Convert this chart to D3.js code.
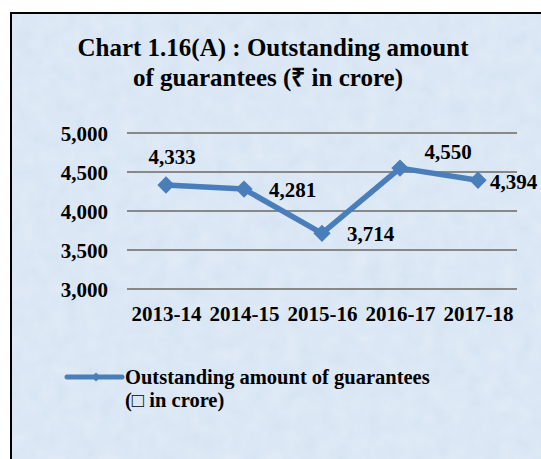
<!DOCTYPE html>
<html>
<head>
<meta charset="utf-8">
<script src="https://cdn.jsdelivr.net/npm/d3@7/dist/d3.min.js"></script>
<style>
  html, body { margin: 0; padding: 0; background: #ffffff; }
  svg { display: block; }
  text { font-family: "Liberation Serif", "Times New Roman", serif; font-weight: bold; fill: #000; }
</style>
</head>
<body>
<svg id="chart" width="541" height="459"></svg>
<script>
const categories = ["2013-14", "2014-15", "2015-16", "2016-17", "2017-18"];
const values = [4333, 4281, 3714, 4550, 4394];
const valueLabels = ["4,333", "4,281", "3,714", "4,550", "4,394"];
const yTicks = [3000, 3500, 4000, 4500, 5000];
const titleLines = ["Chart 1.16(A) : Outstanding amount", "of guarantees (\u20B9 in crore)"];
const legendLines = ["Outstanding amount of guarantees", "(\u25A1 in crore)"];

// layout of the data labels relative to their points (dx, dy, anchor)
const labelLayout = [
  { dx: 6, dy: -21, anchor: "middle" },
  { dx: 25, dy: 8, anchor: "start" },
  { dx: 25, dy: 8, anchor: "start" },
  { dx: 48, dy: -9, anchor: "middle" },
  { dx: 12, dy: 9, anchor: "start" }
];

const svg = d3.select("#chart");
const defs = svg.append("defs");
const filt = defs.append("filter").attr("id", "tex").attr("x", 0).attr("y", 0).attr("width", 1).attr("height", 1);
filt.append("feTurbulence").attr("type", "fractalNoise").attr("baseFrequency", 0.06).attr("numOctaves", 3).attr("seed", 4);
filt.append("feColorMatrix").attr("type", "matrix")
  .attr("values", "0 0 0 0 1  0 0 0 0 1  0 0 0 0 1  0 0 0 0.35 -0.05");
filt.append("feComposite").attr("in2", "SourceGraphic").attr("operator", "in");

// frame
svg.append("rect").attr("x", 11).attr("y", 13).attr("width", 540).attr("height", 460)
  .attr("fill", "#d6e4f3").attr("stroke", "#000").attr("stroke-width", 2);
svg.append("rect").attr("x", 12).attr("y", 14).attr("width", 529).attr("height", 445)
  .attr("fill", "#d6e4f3").attr("filter", "url(#tex)");

// title
svg.append("text").attr("x", 273).attr("y", 56).attr("text-anchor", "middle")
  .style("font-size", "25px").text(titleLines[0]);
svg.append("text").attr("x", 268).attr("y", 86).attr("text-anchor", "middle")
  .style("font-size", "25px").text(titleLines[1]);

const x = d3.scalePoint().domain(categories).range([127, 517]).padding(0.5);
const y = d3.scaleLinear().domain([3000, 5000]).range([289, 133]);

// gridlines
svg.append("g").selectAll("line").data(yTicks).join("line")
  .attr("x1", 127).attr("x2", 517)
  .attr("y1", d => y(d)).attr("y2", d => y(d))
  .attr("stroke", "#888888").attr("stroke-width", 2);

// y axis
const yAxis = d3.axisLeft(y).tickValues(yTicks).tickFormat(d3.format(",")).tickSize(0).tickPadding(19);
const gy = svg.append("g").attr("transform", "translate(127,0)").call(yAxis);
gy.select(".domain").remove();
gy.selectAll("text").style("font-size", "21px").style("font-family", "Liberation Serif, serif")
  .style("font-weight", "bold").attr("dy", "0.38em");

// x axis
const xAxis = d3.axisBottom(x).tickSize(0).tickPadding(17);
const gx = svg.append("g").attr("transform", "translate(0,289)").call(xAxis);
gx.select(".domain").remove();
gx.selectAll("text").style("font-size", "21px").style("font-family", "Liberation Serif, serif").style("font-weight", "bold");

// line
const color = "#4a7ebb";
const pts = categories.map((c, i) => [x(c), y(values[i])]);
svg.append("path").datum(pts).attr("d", d3.line())
  .attr("fill", "none").attr("stroke", color).attr("stroke-width", 5.5).attr("stroke-linejoin", "round");

svg.append("g").selectAll("path").data(pts).join("path")
  .attr("transform", d => `translate(${d[0]},${d[1]}) rotate(45)`)
  .attr("d", d3.symbol().type(d3.symbolSquare).size(150))
  .attr("fill", color);

// data labels
svg.append("g").selectAll("text").data(pts).join("text")
  .attr("x", (d, i) => d[0] + labelLayout[i].dx)
  .attr("y", (d, i) => d[1] + labelLayout[i].dy)
  .attr("text-anchor", (d, i) => labelLayout[i].anchor)
  .style("font-size", "21px")
  .text((d, i) => valueLabels[i]);

// legend
const lg = svg.append("g").attr("transform", "translate(67,377)");
lg.append("line").attr("x1", 0).attr("x2", 55).attr("y1", 0).attr("y2", 0)
  .attr("stroke", color).attr("stroke-width", 5).attr("stroke-linecap", "round");
lg.append("path").attr("transform", "translate(29,0) rotate(45)")
  .attr("d", d3.symbol().type(d3.symbolSquare).size(40)).attr("fill", color);
lg.append("text").attr("x", 58).attr("y", 7).style("font-size", "20.5px").text(legendLines[0]);
lg.append("text").attr("x", 58).attr("y", 30).style("font-size", "20.5px").text(legendLines[1]);
</script>
</body>
</html>
